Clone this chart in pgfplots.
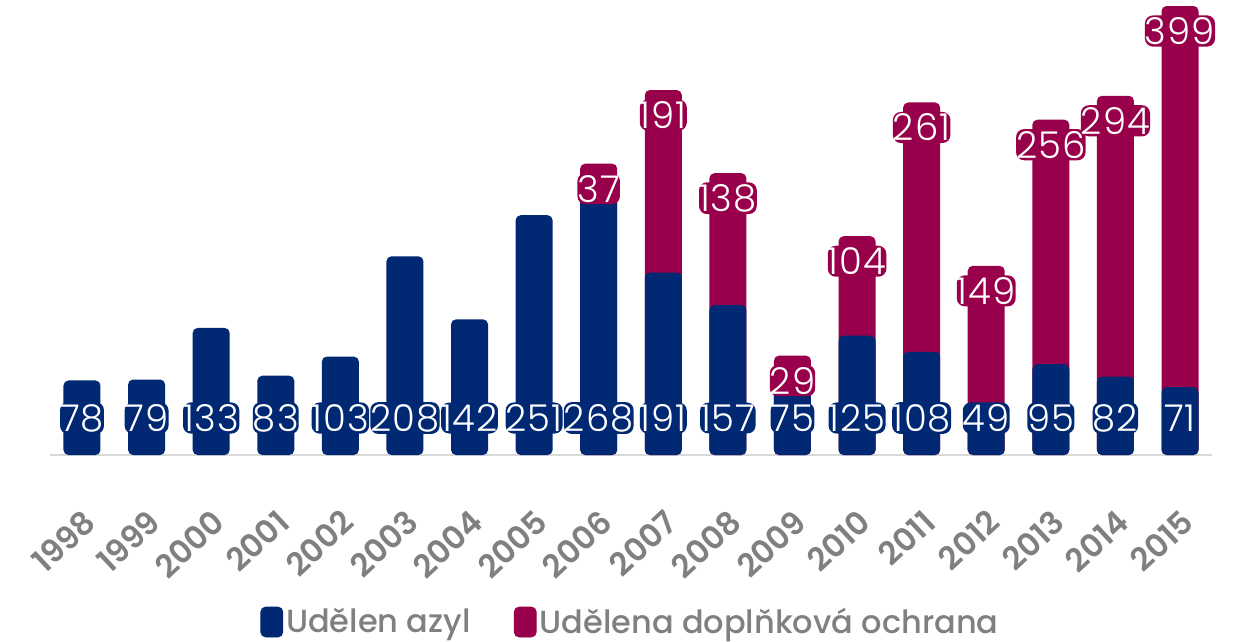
\documentclass[border=0pt]{standalone}
\usepackage{fontspec}
\setmainfont{Poppins}
\newfontfamily\labfont{Poppins}[UprightFont=* Light, LetterSpace=3]
\newfontfamily\tickfont{Poppins}[UprightFont=* SemiBold]
\newfontfamily\legfont{Poppins}[UprightFont=* Medium]
\usepackage{pgfplots}
\usepackage{pgfplotstable}
\pgfplotsset{compat=1.18}
\definecolor{cblue}{RGB}{0,40,115}
\definecolor{cmag}{RGB}{153,0,76}
\definecolor{cgray}{RGB}{128,128,128}
\definecolor{cline}{RGB}{217,217,217}

\pgfplotstableread{
x year blue
0 1998 78
1 1999 79
2 2000 133
3 2001 83
4 2002 103
5 2003 208
6 2004 142
7 2005 251
8 2006 268
9 2007 191
10 2008 157
11 2009 75
12 2010 125
13 2011 108
14 2012 49
15 2013 95
16 2014 82
17 2015 71
}\bluedata

\pgfplotstableread{
x year mag total
8 2006 37 305
9 2007 191 382
10 2008 138 295
11 2009 29 104
12 2010 104 229
13 2011 261 369
14 2012 149 198
15 2013 256 351
16 2014 294 376
17 2015 399 470
}\magdata

\begin{document}
\begin{tikzpicture}
\path[use as bounding box] (-24.85pt,-93.5pt) rectangle ++(618pt,321pt);
\begin{axis}[
  at={(0,0)}, anchor=south west,
  scale only axis, width=581.3pt, height=224.5pt,
  xmin=-0.5, xmax=17.5, ymin=0, ymax=470,
  axis y line=none,
  axis x line*=bottom,
  x axis line style={cline, line width=0.8pt, -},
  xtick={0,...,17},
  xticklabels={1998,1999,2000,2001,2002,2003,2004,2005,2006,2007,2008,2009,2010,2011,2012,2013,2014,2015},
  major tick length=0pt,
  xticklabel style={rotate=43, anchor=north east, font=\tickfont\fontsize{16}{16}\selectfont, text=cgray, xshift=-18pt, yshift=-19pt, inner sep=0pt},
  ytick=\empty,
  clip=false,
  /pgf/number format/assume math mode=true,
  legend columns=2,
  legend style={draw=none, fill=none, at={(0.5,-0.372)}, anchor=center,
    font=\legfont\fontsize{16}{16}\selectfont\color{cgray},
    /tikz/every even column/.append style={column sep=20pt},
    nodes={inner xsep=1.5pt}},
  legend cell align=left,
]
\addlegendimage{legend image code/.code={\fill[cblue, rounded corners=2.5pt] (0pt,-7.5pt) rectangle (11pt,7.5pt);}}
\addlegendentry{Udělen azyl}
\addlegendimage{legend image code/.code={\fill[cmag, rounded corners=2.5pt] (0pt,-7.5pt) rectangle (11pt,7.5pt);}}
\addlegendentry{Udělena doplňková ochrana}

\addplot[ybar, bar width=18.5pt, bar shift=0pt, fill=cmag, draw=none, rounded corners=2.5pt, forget plot,
  point meta=explicit,
  nodes near coords,
  nodes near coords style={anchor=center, yshift=-12.5pt, text=white, fill=cmag, rounded corners=4pt, inner xsep=0pt, inner ysep=1pt, font=\labfont\fontsize{18.5}{18.5}\selectfont}]
  table[x=x, y=total, meta=mag]{\magdata};

\addplot[ybar, bar width=18.5pt, bar shift=0pt, fill=cblue, draw=none, rounded corners=2.5pt, forget plot]
  table[x=x, y=blue]{\bluedata};

\addplot[draw=none, mark=none, forget plot,
  point meta=explicit,
  nodes near coords,
  nodes near coords style={anchor=center, text=white, fill=cblue, rounded corners=4pt, inner xsep=0pt, inner ysep=1pt, font=\labfont\fontsize{18.5}{18.5}\selectfont}]
  table[x=x, y expr=38.7, meta=blue]{\bluedata};
\end{axis}
\end{tikzpicture}
\end{document}
